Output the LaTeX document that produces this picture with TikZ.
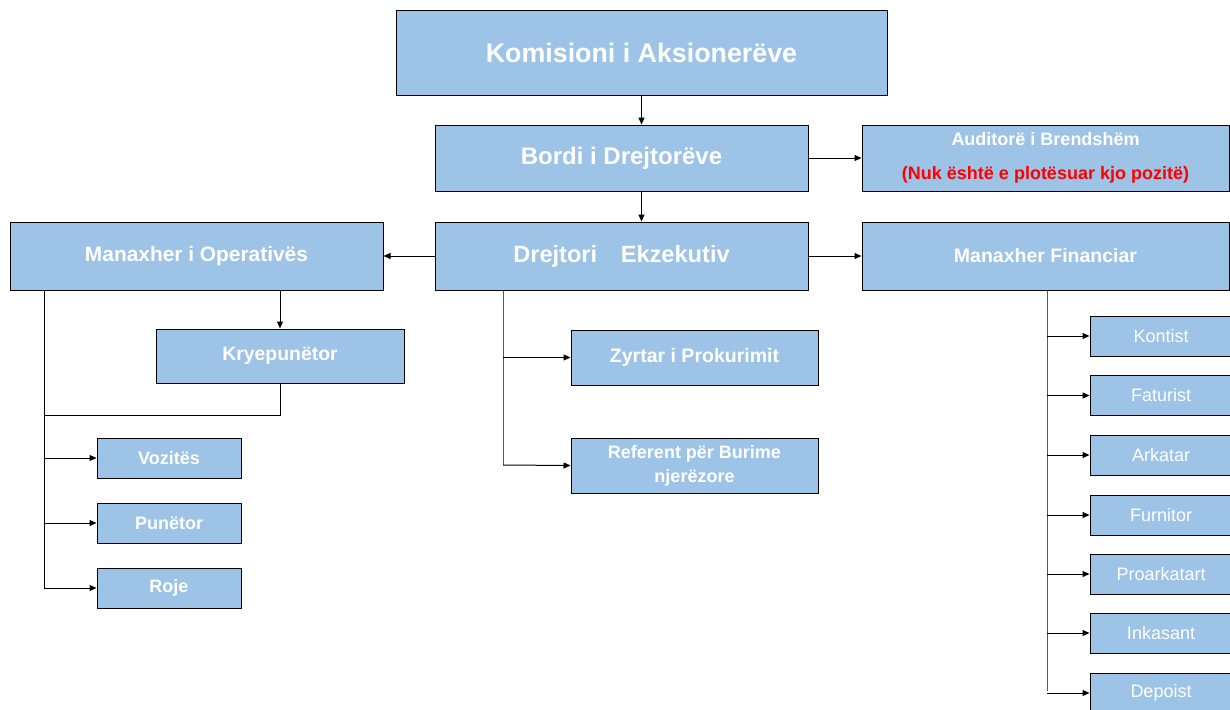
\documentclass[tikz,border=0pt]{standalone}
\usepackage{fontspec}
\setmainfont{Liberation Sans}
\usetikzlibrary{positioning,arrows.meta}
\definecolor{boxblue}{HTML}{9DC3E6}
\newcommand{\fs}[1]{\fontsize{#1}{#1}\selectfont}
\tikzset{
  unit/.style={shape=rectangle,draw=black,line width=1pt,fill=boxblue,text=white,inner sep=0pt,align=center},
  link/.style={-{Triangle[length=7pt,width=6pt]},line width=1pt},
  trunk/.style={line width=1pt,draw=black!65}
}

\begin{document}
\begin{tikzpicture}[x=1pt,y=-1pt]
\useasboundingbox (0,0) rectangle (1230,709);
\clip (0,0) rectangle (1230,709);

%top of the chart
\node [unit,minimum width=491pt,minimum height=84pt,font=\fs{26.8}\bfseries] at (641.5,53) (kom) {Komisioni i Aksionerëve};
\node [unit,minimum width=373pt,minimum height=66pt,font=\fs{24}\bfseries] at (621.5,158) (bordi) {Bordi i Drejtorëve};
\node [unit,minimum width=367pt,minimum height=66pt,font=\fs{18}\bfseries] at (1045.5,158) (aud) {Auditorë i Brendshëm\\[16pt]\textcolor{red}{(Nuk është e plotësuar kjo pozitë)}};

%second row
\node [unit,minimum width=373pt,minimum height=68pt,font=\fs{20.9}\bfseries] at (196.5,256) (mop) {Manaxher i Operativës};
\node [unit,minimum width=373pt,minimum height=68pt,font=\fs{23.6}\bfseries] at (621.5,256) (drej) {Drejtori\hspace{1em}Ekzekutiv};
\node [unit,minimum width=367pt,minimum height=68pt,font=\fs{19.5}\bfseries] at (1045.5,256) (mfin) {Manaxher Financiar};

%operations
\node [unit,minimum width=248pt,minimum height=54pt,font=\fs{19.4}\bfseries] at (280,356) (kry) {Kryepunëtor};
\node [unit,minimum width=144pt,minimum height=40pt,font=\fs{18}\bfseries] at (169,458) (voz) {Vozitës};
\node [unit,minimum width=144pt,minimum height=40pt,font=\fs{18}\bfseries] at (169,523) (pun) {Punëtor};
\node [unit,minimum width=144pt,minimum height=40pt,font=\fs{18}\bfseries] at (169,588) (roje) {Roje};

%executive
\node [unit,minimum width=247pt,minimum height=55pt,font=\fs{19.5}\bfseries] at (694.5,357.5) (zyr) {Zyrtar i Prokurimit};
\node [unit,minimum width=247pt,minimum height=55pt,font=\fs{18}\bfseries] at (694.5,465.5) (ref) {Referent për Burime\\[6pt]njerëzore};

%finance
\foreach \lbl/\nm/\yy in {Kontist/kon/336,Faturist/fat/395.5,Arkatar/ark/455,Furnitor/fur/515,Proarkatart/pro/574,Inkasant/ink/633,Depoist/dep/693}
  \node [unit,minimum width=142pt,minimum height=40pt,font=\fs{18}] at (1161,\yy) (\nm) {\lbl};

%free ends of the trunks
\coordinate (opbot) at (44,588);
\coordinate (joint) at (44,415);
\coordinate (dbot) at (503,465);
\coordinate (fbot) at (1047,691);

%arrows between the main boxes
\draw [link] (kom.south) -- (kom.south |- bordi.north);
\draw [link] (bordi.east) -- (aud.west);
\draw [link] (kom.south |- bordi.south) -- (kom.south |- drej.north);
\draw [link] (drej.west) -- (mop.east);
\draw [link] (drej.east) -- (mfin.west);

%operations branch
\draw [link] (mop.south -| kry.north) -- (kry.north);
\draw [trunk,draw=black] (kry.south) -- (kry.south |- joint) -- (joint);
\draw [trunk,draw=black] (mop.south -| opbot) -- (opbot);
\draw [link] (opbot |- voz) -- (voz.west);
\draw [link] (opbot |- pun) -- (pun.west);
\draw [link] (opbot) -- (roje.west);

%executive branch
\draw [trunk] (drej.south -| dbot) -- (dbot);
\draw [link] (dbot |- zyr) -- (zyr.west);
\draw [link] (dbot) -- (ref.west);

%finance branch
\draw [trunk] (mfin.south -| fbot) -- (fbot);
\foreach \nm in {kon,fat,ark,fur,pro,ink,dep}
  \draw [link] (fbot |- \nm) -- (\nm.west);

\end{tikzpicture}
\end{document}
